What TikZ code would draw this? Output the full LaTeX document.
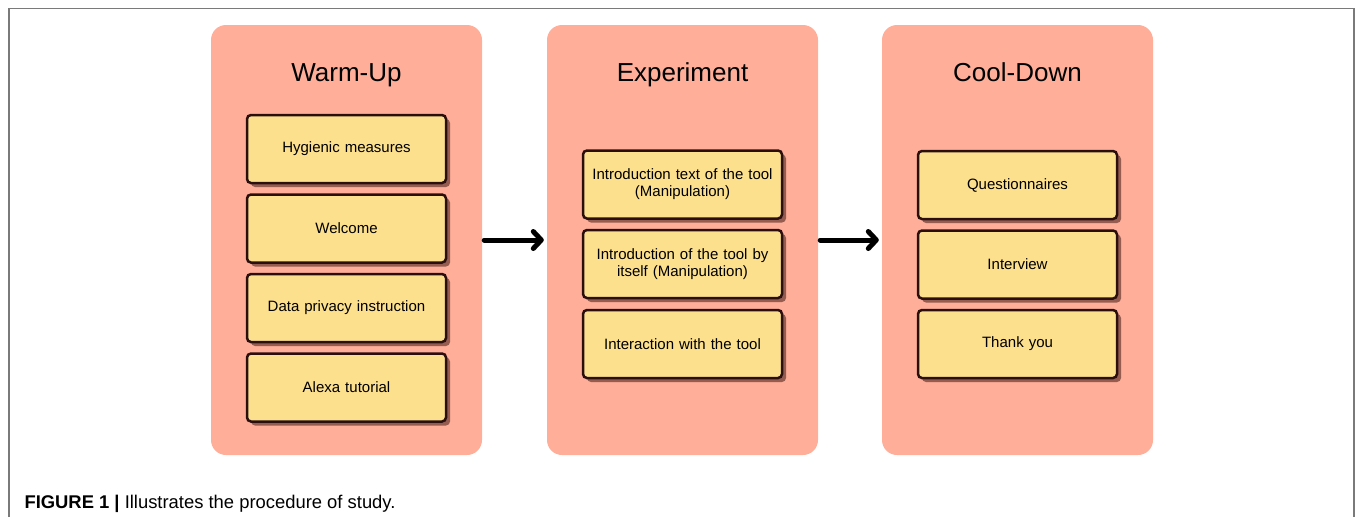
\documentclass[tikz,border=0pt]{standalone}
\usepackage{fontspec}
\setmainfont{Liberation Sans}
\usepackage{tikz}
\usetikzlibrary{arrows.meta,shadows}

\definecolor{phasefill}{HTML}{FEAE99}
\definecolor{stepfill}{HTML}{FCE08E}
\definecolor{stepline}{HTML}{2B0F0F}
\definecolor{stepshadow}{HTML}{6B3A32}
\definecolor{framegray}{HTML}{7A7A7A}

\tikzset{
	phase/.style={fill=phasefill, rounded corners=15pt, minimum width=271pt, minimum height=430pt, inner sep=0pt},
	phasetitle/.style={anchor=base, font=\fontsize{26pt}{30pt}\selectfont},
	stepbox/.style={draw=stepline, line width=2.5pt, fill=stepfill, rounded corners=4pt,
		minimum width=199pt, minimum height=68pt, text width=190pt, align=center, inner sep=0pt,
		font=\fontsize{15pt}{17pt}\selectfont,
		drop shadow={shadow xshift=4pt, shadow yshift=-4pt, fill=stepshadow, opacity=0.7}},
	flow/.style={line width=5pt, line cap=round, -{Straight Barb[length=8pt, width=17pt, line cap=round, line join=round]}, shorten <=2pt, shorten >=3pt}
}

\begin{document}
\begin{tikzpicture}[x=1pt, y=-1pt]
				\useasboundingbox (0, 0) rectangle (1355, 517);
				\draw [framegray, line width=1.2pt] (9, 517) -- (9, 8.5) -- (1354, 8.5) -- (1354, 517);

				\node [phase] (warmup) at (346.5, 240) {};
				\node [phase] (experiment) at (682.5, 240) {};
				\node [phase] (cooldown) at (1017.5, 240) {};

				\node [phasetitle] (warmuptitle) at (346.5, 81) {Warm-Up};
				\node [phasetitle] (experimenttitle) at (682.5, 81) {Experiment};
				\node [phasetitle] (cooldowntitle) at (1017.5, 81) {Cool-Down};

				\node [stepbox] (hygiene) at (346.5, 149) {Hygienic measures};
				\node [stepbox] (welcome) at (346.5, 228.5) {Welcome};
				\node [stepbox] (privacy) at (346.5, 308) {Data privacy instruction};
				\node [stepbox] (alexa) at (346.5, 387.5) {Alexa tutorial};

				\node [stepbox] (introtext) at (682.5, 184.5) {Introduction text of the tool\\(Manipulation)};
				\node [stepbox] (introself) at (682.5, 264) {Introduction of the tool by\\itself (Manipulation)};
				\node [stepbox] (interaction) at (682.5, 344) {Interaction with the tool};

				\node [stepbox] (questionnaires) at (1017.5, 185) {Questionnaires};
				\node [stepbox] (interview) at (1017.5, 264.5) {Interview};
				\node [stepbox] (thanks) at (1017.5, 344) {Thank you};

				\draw [flow] (warmup) to (experiment);
				\draw [flow] (experiment) to (cooldown);

				\node [anchor=base west, font=\fontsize{18.4pt}{21pt}\selectfont] (caption) at (21, 508) {\textbf{FIGURE 1 |} Illustrates the procedure of study.};
		\end{tikzpicture}
\end{document}
